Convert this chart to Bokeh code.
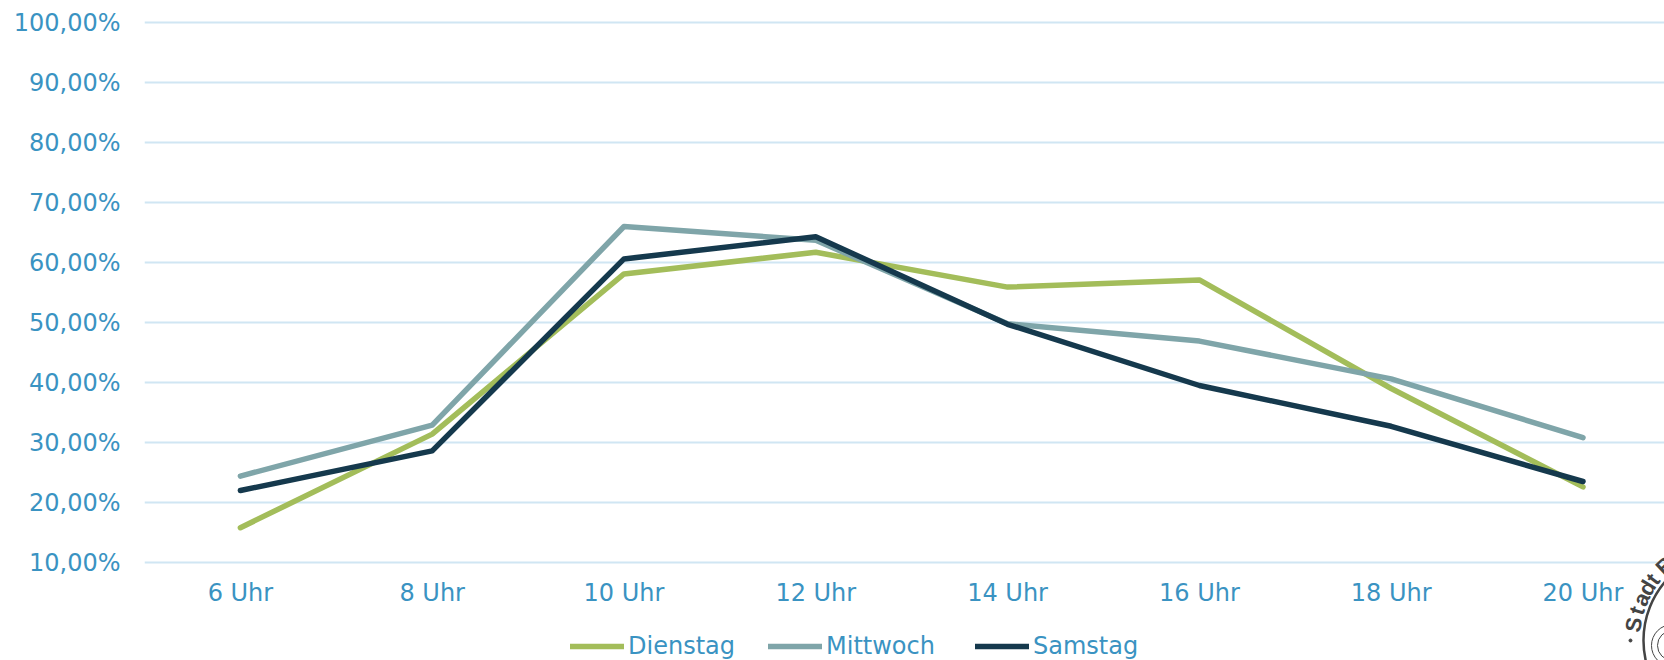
import math
from bokeh.plotting import figure
from bokeh.embed import file_html
from bokeh.resources import INLINE
from bokeh.core.properties import value
from bokeh.models import Range1d, FixedTicker, Legend, LegendItem, LinearAxis

hours = [6, 8, 10, 12, 14, 16, 18, 20]
hour_labels = ["6 Uhr", "8 Uhr", "10 Uhr", "12 Uhr", "14 Uhr", "16 Uhr", "18 Uhr", "20 Uhr"]
dienstag = [15.8, 31.4, 58.1, 61.7, 55.9, 57.1, 39.0, 22.6]
mittwoch = [24.4, 32.9, 66.0, 63.7, 49.8, 46.9, 40.6, 30.8]
samstag = [22.0, 28.6, 60.6, 64.3, 49.7, 39.5, 32.7, 23.5]
y_ticks = [10, 20, 30, 40, 50, 60, 70, 80, 90, 100]
y_labels = ["10,00%", "20,00%", "30,00%", "40,00%", "50,00%", "60,00%", "70,00%", "80,00%", "90,00%", "100,00%"]

TXT = "#3a93c2"
FONT = "DejaVu Sans"
XMIN, XMAX = 5.0, 20.85
# the frame fills the canvas below the y labels, so the legend and the seal can sit inside it
p = figure(width=1664, height=660, output_backend="svg", toolbar_location=None,
           x_range=Range1d(XMIN, XMAX), y_range=Range1d(100 - 638 / 6, 100 + 22 / 6),
           min_border_left=144, min_border_right=0, min_border_top=0, min_border_bottom=0,
           x_axis_type=None)
p.outline_line_color = None
p.background_fill_color = "white"
p.ygrid.grid_line_color = "#d0e6f3"
p.ygrid.grid_line_width = 2
p.ygrid.ticker = FixedTicker(ticks=y_ticks)

xaxis = LinearAxis(fixed_location=10, ticker=FixedTicker(ticks=hours),
                   major_label_overrides=dict(zip(hours, hour_labels)))
p.add_layout(xaxis, "below")
p.yaxis.ticker = FixedTicker(ticks=y_ticks)
p.yaxis.major_label_overrides = dict(zip(y_ticks, y_labels))
for ax in (xaxis, p.yaxis[0]):
    ax.axis_line_color = None
    ax.major_tick_line_color = None
    ax.minor_tick_line_color = None
    ax.major_label_text_color = TXT
    ax.major_label_text_font = FONT
    ax.major_label_text_font_size = "24px"
xaxis.major_label_standoff = 10
p.yaxis.major_label_standoff = 18

series = [("Dienstag", dienstag, "#a3bd5a", 426),
          ("Mittwoch", mittwoch, "#7fa5a9", 624),
          ("Samstag", samstag, "#15394d", 831)]
for name, vals, col, lx in series:
    r = p.line(hours, vals, line_color=col, line_width=5.5, line_cap="round", line_join="round")
    p.add_layout(Legend(items=[LegendItem(label=name, renderers=[r])],
                        orientation="horizontal", location=(lx, 0),
                        background_fill_alpha=0, border_line_color=None,
                        glyph_width=54, glyph_height=26, label_standoff=4,
                        padding=0, margin=0, label_height=26,
                        label_text_color=TXT, label_text_font=FONT, label_text_font_size="24px"), "center")

# partly visible seal, bottom right corner
SEAL = "#444444"
def dx(px): return XMIN + (px - 144) / 95.9
def dy(py): return 100 - (py - 22) / 6

p.ellipse(x=[dx(1734)], y=[dy(640)], width=182, height=182, width_units="screen", height_units="screen",
          fill_alpha=0, line_color=SEAL, line_width=2.5)
p.ellipse(x=[dx(1672)] * 2, y=[dy(645)] * 2, width=[42, 30], height=[42, 30],
          width_units="screen", height_units="screen", fill_alpha=0, line_color=SEAL, line_width=1)
letters = list("StadtB")
degs = [9, 17, 24, 31, 37, 47]
rad = [math.radians(d) for d in degs]
p.text(x=[dx(1734 - 102 * math.cos(t)) for t in rad], y=[dy(640 - 102 * math.sin(t)) for t in rad],
       text=letters, angle=[math.pi / 2 - t for t in rad], text_align="center", text_baseline="middle",
       text_font=value("Liberation Sans"), text_font_style="bold", text_font_size="22px", text_color=SEAL)
p.scatter(x=[dx(1630)], y=[dy(640)], size=3, color=SEAL)

open("out.html", "w").write(file_html(p, INLINE))
